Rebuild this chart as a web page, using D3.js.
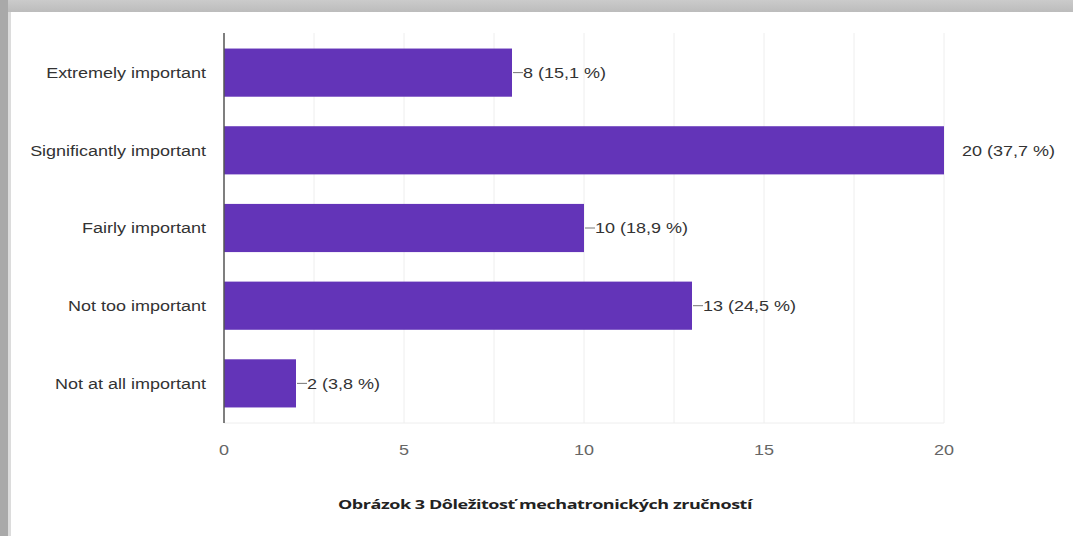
<!DOCTYPE html>
<html>
<head>
<meta charset="utf-8">
<script src="https://cdn.jsdelivr.net/npm/d3@7"></script>
<style>
  body { margin: 0; background: #fff; }
  svg { display: block; }
</style>
</head>
<body>
<div id="d3"></div>
<script>
// data
const categories = ["Extremely important", "Significantly important", "Fairly important", "Not too important", "Not at all important"];
const counts = [8, 20, 10, 13, 2];
const percents = ["15,1", "37,7", "18,9", "24,5", "3,8"];
const xTicks = [0, 5, 10, 15, 20];
const caption = "Obrázok 3 Dôležitosť mechatronických zručností";

const W = 1073, H = 536;
const margin = { top: 33, left: 224, right: 129, bottom: 113 };
const width = W - margin.left - margin.right,
  height = H - margin.top - margin.bottom;
const stretch = 1.2; // the screenshot text is a bit wider than normal
const font = "Liberation Sans, Arial, sans-serif";

const root = d3.select("#d3").append("svg").attr("width", W).attr("height", H);

// frame around the screenshot
const grad = root.append("defs").append("linearGradient")
  .attr("id", "topband").attr("x1", 0).attr("y1", 0).attr("x2", 0).attr("y2", 1);
grad.append("stop").attr("offset", "0%").attr("stop-color", "#cbcbcb");
grad.append("stop").attr("offset", "100%").attr("stop-color", "#bcbcbc");
root.append("rect").attr("x", 0).attr("y", 0).attr("width", W).attr("height", 12).attr("fill", "url(#topband)");
root.append("rect").attr("x", 0).attr("y", 0).attr("width", 8).attr("height", H).attr("fill", "#a9a9a9");
root.append("rect").attr("x", 8).attr("y", 12).attr("width", 3).attr("height", H - 12).attr("fill", "#dcdcdc");

const svg = root.append("g").attr("transform", `translate(${margin.left}, ${margin.top})`);

const x = d3.scaleLinear().domain([0, 20]).range([0, width]);
const y = d3.scaleBand().domain(categories).range([0, height]).paddingInner(0.38).paddingOuter(0.2);

// grid lines
svg.append("g")
  .selectAll("line")
  .data(d3.range(2.5, 20.01, 2.5))
  .join("line")
  .attr("x1", (d) => x(d))
  .attr("x2", (d) => x(d))
  .attr("y1", 0)
  .attr("y2", height)
  .attr("stroke", "#eeeeee");
svg.append("line")
  .attr("x1", 0).attr("x2", width)
  .attr("y1", height).attr("y2", height)
  .attr("stroke", "#eeeeee");

// bars
svg.selectAll(".bar")
  .data(counts)
  .join("rect")
  .attr("class", "bar")
  .attr("x", x(0))
  .attr("y", (d, i) => y(categories[i]))
  .attr("width", (d) => x(d) - x(0))
  .attr("height", y.bandwidth())
  .attr("fill", "#6334b8");

// axis line
svg.append("line")
  .attr("x1", 0).attr("x2", 0)
  .attr("y1", 0).attr("y2", height)
  .attr("stroke", "#555").attr("stroke-width", 1.5);

// y labels
svg.append("g")
  .selectAll("text")
  .data(categories)
  .join("text")
  .attr("transform", (d) => `translate(-18, ${y(d) + y.bandwidth() / 2}) scale(${stretch}, 1)`)
  .attr("dy", "0.35em")
  .attr("text-anchor", "end")
  .attr("font-family", font)
  .attr("font-size", 15)
  .attr("fill", "#333")
  .text((d) => d);

// x tick labels
svg.append("g")
  .selectAll("text")
  .data(xTicks)
  .join("text")
  .attr("transform", (d) => `translate(${x(d)}, ${height + 27}) scale(${stretch}, 1)`)
  .attr("dy", "0.35em")
  .attr("text-anchor", "middle")
  .attr("font-family", font)
  .attr("font-size", 15)
  .attr("fill", "#666")
  .text((d) => d);

// value labels with leader lines
const maxVal = d3.max(counts);
const labels = svg.append("g")
  .selectAll("g")
  .data(counts)
  .join("g")
  .attr("transform", (d, i) => `translate(${x(d)}, ${y(categories[i]) + y.bandwidth() / 2})`);

labels.filter((d) => d !== maxVal)
  .append("line")
  .attr("x1", 1).attr("x2", 11)
  .attr("y1", 0).attr("y2", 0)
  .attr("stroke", "#777");

labels.append("text")
  .attr("transform", (d) => `translate(${d === maxVal ? 18 : 11}, 0) scale(${stretch}, 1)`)
  .attr("dy", "0.35em")
  .attr("font-family", font)
  .attr("font-size", 15)
  .attr("fill", "#333")
  .text((d, i) => `${d} (${percents[i]} %)`);

// caption
root.append("text")
  .attr("transform", `translate(545, 505) scale(1.5, 1)`)
  .attr("dy", "0.35em")
  .attr("text-anchor", "middle")
  .attr("font-family", "Open Sans, sans-serif")
  .attr("font-weight", "bold")
  .attr("font-size", 12)
  .attr("letter-spacing", "-0.3")
  .attr("fill", "#222")
  .text(caption);
</script>
</body>
</html>
